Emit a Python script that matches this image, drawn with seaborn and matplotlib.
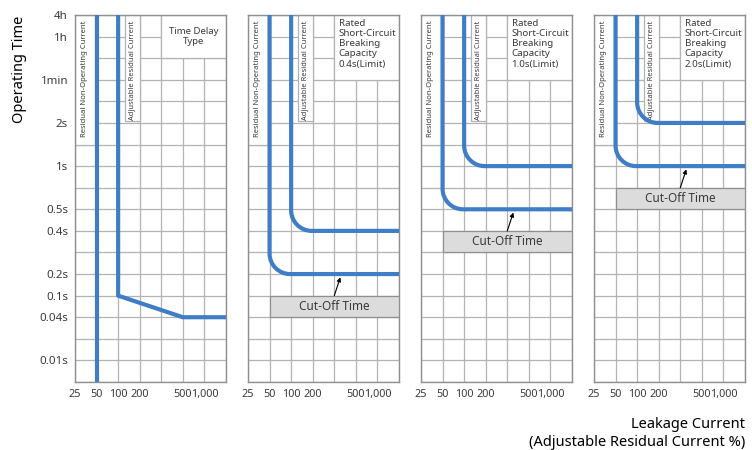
import numpy as np
import pandas as pd
import seaborn as sns
import matplotlib.pyplot as plt
from matplotlib.patches import Rectangle, PathPatch
from matplotlib.path import Path

# axis scales (grid units)
current_labels = ["25", "50", "100", "200", "500", "1,000"]
current_cols = [0, 1, 2, 3, 5, 6]
time_labels = ["4h", "1h", "1min", "2s", "1s", "0.5s", "0.4s", "0.2s", "0.1s", "0.04s", "0.01s"]
time_rows = [0, 1, 3, 5, 7, 9, 10, 12, 13, 14, 16]
n_cols = 7
n_rows = 17

col_of = dict(zip(current_labels, current_cols))
row_of = dict(zip(time_labels, time_rows))

# panel 1: time delay type
delay_current = ["100", "100", "500"]
delay_time = ["4h", "0.1s", "0.04s"]

# panels 2-4: rated short-circuit breaking capacity
panel_notes = ["Time Delay\nType",
               "Rated\nShort-Circuit\nBreaking\nCapacity\n0.4s(Limit)",
               "Rated\nShort-Circuit\nBreaking\nCapacity\n1.0s(Limit)",
               "Rated\nShort-Circuit\nBreaking\nCapacity\n2.0s(Limit)"]
non_operating_current = "50"
adjustable_current = "100"
non_operating_time = [None, "0.2s", "0.5s", "1s"]
adjustable_time = [None, "0.4s", "1s", "2s"]

blue = "#3f7dc6"
grid_c = "#b3b3b3"
frame_c = "#8f8f8f"
text_c = "#3a3a3a"

sns.set_theme(style="white")
plt.rcParams["font.family"] = ["Noto Sans", "DejaVu Sans"]

fig = plt.figure(figsize=(7.52, 4.5), dpi=100)
W, H = 752, 450
lefts = [75, 248, 421, 594]
top_px, bot_px, width_px = 15, 382, 151


def rounded(ax, col, row, r=0.95):
    k = 0.5523 * r
    verts = [(col, 0), (col, row - r), (col, row - r + k), (col + r - k, row),
             (col + r, row), (n_cols, row)]
    codes = [Path.MOVETO, Path.LINETO, Path.CURVE4, Path.CURVE4, Path.CURVE4, Path.LINETO]
    ax.add_patch(PathPatch(Path(verts, codes), fill=False, edgecolor=blue,
                           lw=3, capstyle="butt", zorder=4))


for i, left in enumerate(lefts):
    ax = fig.add_axes([left / W, 1 - bot_px / H, width_px / W, (bot_px - top_px) / H])

    if i == 0:
        # non-operating current
        v = pd.DataFrame({"x": [col_of[non_operating_current]] * 2, "y": [0, n_rows]})
        sns.lineplot(data=v, x="x", y="y", ax=ax, color=blue, lw=3, sort=False,
                     estimator=None, zorder=4)
        xs = [col_of[c] for c in delay_current] + [n_cols]
        ys = [row_of[t] for t in delay_time] + [row_of[delay_time[-1]]]
        d = pd.DataFrame({"x": xs, "y": ys})
        sns.lineplot(data=d, x="x", y="y", ax=ax, color=blue, lw=3, sort=False,
                     estimator=None, zorder=4, solid_joinstyle="round")

    ax.set_xlim(0, n_cols)
    ax.set_ylim(n_rows, 0)
    ax.set_xticks(current_cols)
    ax.set_xticklabels(current_labels)
    ax.set_yticks(time_rows)
    ax.set_yticklabels(time_labels if i == 0 else [])
    ax.set_xticks(range(n_cols + 1), minor=True)
    ax.set_yticks(range(n_rows + 1), minor=True)
    ax.grid(which="both", color=grid_c, lw=0.9)
    ax.set_axisbelow(True)
    ax.tick_params(which="both", length=0)
    ax.tick_params(axis="x", pad=5, labelsize=7.8, labelcolor=text_c)
    ax.tick_params(axis="y", pad=5, labelsize=8.3, labelcolor=text_c)
    for s in ax.spines.values():
        s.set_color(frame_c)
        s.set_linewidth(1)
    ax.set_xlabel("")
    ax.set_ylabel("")

    # label boxes
    ax.add_patch(Rectangle((0, 0), 0.95, 6, facecolor="white", edgecolor=grid_c, lw=0.9, zorder=1))
    ax.add_patch(Rectangle((2.3, 0), 0.7, 4.9, facecolor="white", edgecolor=grid_c, lw=0.9, zorder=1))
    ax.text(0.45, 0.25, "Residual Non-Operating Current", rotation=90, ha="center", va="top",
            fontsize=5.5, color=text_c, zorder=2)
    ax.text(2.65, 0.25, "Adjustable Residual Current", rotation=90, ha="center", va="top",
            fontsize=5.4, color=text_c, zorder=2)

    if i == 0:
        ax.add_patch(Rectangle((4, 0), 3, 2, facecolor="white", edgecolor=grid_c, lw=0.9, zorder=1))
        ax.text(5.5, 1.0, panel_notes[i], ha="center", va="center", fontsize=6.9,
                color=text_c, linespacing=1.2, zorder=2)
    else:
        ax.add_patch(Rectangle((4, 0), 3, 3, facecolor="white", edgecolor=grid_c, lw=0.9, zorder=1))
        ax.text(4.2, 0.2, panel_notes[i], ha="left", va="top", fontsize=7,
                color=text_c, linespacing=1.15, zorder=2)
        r_no = row_of[non_operating_time[i]]
        r_adj = row_of[adjustable_time[i]]
        rounded(ax, col_of[non_operating_current], r_no)
        rounded(ax, col_of[adjustable_current], r_adj)
        ax.add_patch(Rectangle((1, r_no + 1), 6, 1, facecolor="#dcdcdc", edgecolor=frame_c,
                               lw=0.9, zorder=3))
        ax.text(4, r_no + 1.5, "Cut-Off Time", ha="center", va="center", fontsize=8.5,
                color=text_c, zorder=5)
        ax.annotate("", xy=(4.28, r_no + 0.15), xytext=(4.0, r_no + 1),
                    arrowprops=dict(arrowstyle="-|>", lw=0.8, color="black",
                                    mutation_scale=6, shrinkA=0, shrinkB=0), zorder=5)

fig.text(20 / W, 1 - 69 / H, "Operating Time", rotation=90, ha="center", va="center",
         fontsize=10.5, color="black")
fig.text(745 / W, 1 - 424 / H, "Leakage Current", ha="right", va="center",
         fontsize=10.5, color="black")
fig.text(745 / W, 1 - 442 / H, "(Adjustable Residual Current %)", ha="right", va="center",
         fontsize=10.5, color="black")

fig.savefig("out.png", dpi=100, facecolor="white")
